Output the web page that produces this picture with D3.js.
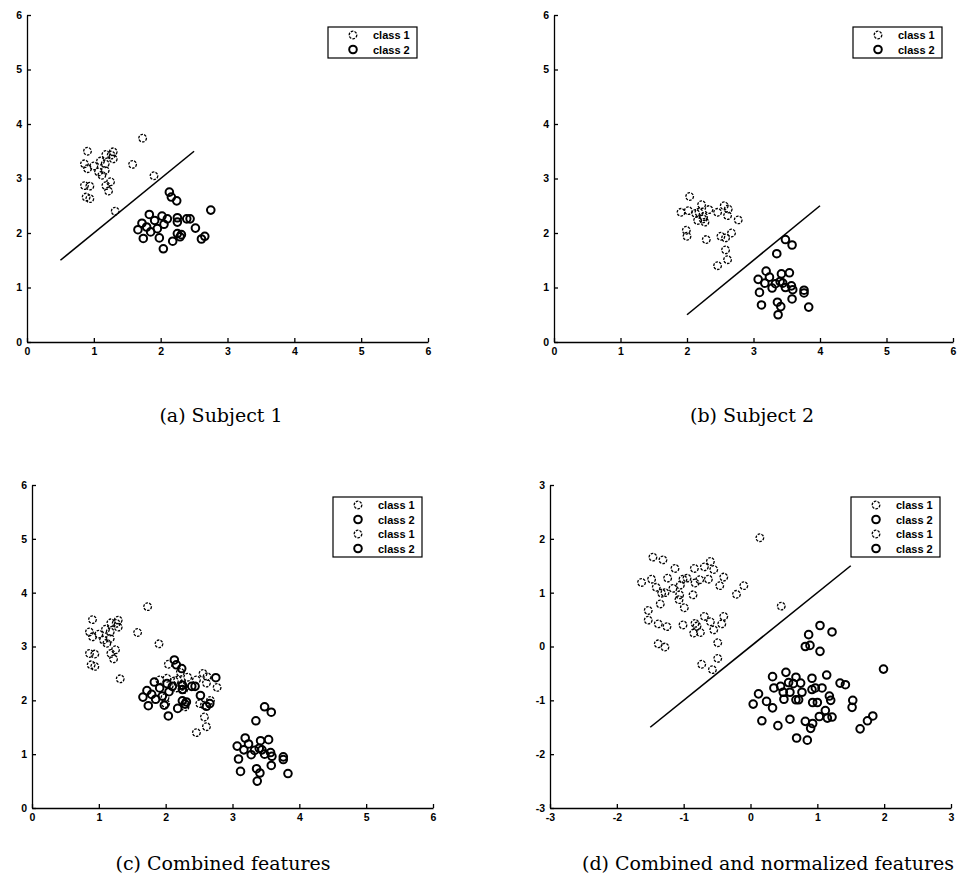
<!DOCTYPE html>
<html>
<head>
<meta charset="utf-8">
<script src="https://cdn.jsdelivr.net/npm/d3@7"></script>
<style>
  body { margin: 0; background: #fff; }
  svg { display: block; }
</style>
</head>
<body>
<script>
// subject 1 features
const s1c1 = [[0.905,3.50],[0.86,3.27],[0.905,3.18],[1.0,3.23],[1.1,3.32],[1.18,3.44],[1.29,3.49],[1.26,3.43],
  [1.17,3.27],[1.07,3.12],[1.17,3.15],[1.25,2.94],[1.18,2.87],[1.22,2.77],[0.86,2.87],[0.94,2.86],[0.885,2.66],
  [0.94,2.63],[1.32,2.40],[1.58,3.26],[1.73,3.74],[1.90,3.05],[1.12,3.06],[1.29,3.36]];
const s1c2 = [[2.13,2.75],[2.16,2.66],[2.24,2.59],[2.75,2.42],[1.83,2.34],[1.72,2.18],[1.66,2.06],[1.79,2.11],
  [1.74,1.90],[1.85,2.02],[1.98,1.91],[1.91,2.23],[2.02,2.31],[2.05,2.16],[1.95,2.08],[2.04,1.71],[2.18,1.85],
  [2.25,2.20],[2.25,1.99],[2.29,1.93],[2.39,2.26],[2.44,2.26],[2.52,2.09],[2.61,1.89],[2.66,1.94],[2.25,2.28],
  [2.10,2.26],[2.31,1.97]];
// subject 2 features
const s2c1 = [[2.04,2.67],[1.91,2.38],[2.02,2.41],[2.13,2.36],[2.18,2.38],[2.22,2.52],[2.33,2.43],[2.16,2.23],
  [2.24,2.26],[2.27,2.20],[2.46,2.38],[2.56,2.50],[2.62,2.44],[2.61,2.32],[2.77,2.24],[2.00,1.94],[2.29,1.88],
  [2.51,1.94],[2.58,1.69],[2.61,1.51],[2.46,1.40],[2.58,1.91],[1.99,2.05],[2.67,2.00],[2.25,2.30]];
const s2c2 = [[3.48,1.88],[3.58,1.78],[3.35,1.62],[3.19,1.30],[3.07,1.15],[3.17,1.08],[3.24,1.19],[3.33,1.07],
  [3.28,0.99],[3.42,1.25],[3.54,1.27],[3.44,1.08],[3.48,1.00],[3.57,1.03],[3.59,0.96],[3.40,1.11],[3.76,0.95],
  [3.76,0.90],[3.09,0.91],[3.12,0.68],[3.36,0.73],[3.41,0.65],[3.37,0.50],[3.58,0.79],[3.83,0.64]];
// combined and normalized features
const n1c1 = [[-1.46,1.66],[-1.31,1.61],[-1.13,1.45],[-0.84,1.45],[-0.69,1.48],[-0.60,1.58],[-0.55,1.43],
  [-1.63,1.19],[-1.48,1.25],[-1.41,1.10],[-1.24,1.27],[-1.16,1.08],[-1.33,0.99],[-1.28,1.00],[-1.05,1.14],
  [-1.01,1.25],[-0.95,1.27],[-1.06,0.96],[-1.07,0.87],[-0.99,0.72],[-0.86,0.96],[-0.83,1.18],[-0.76,1.24],
  [-0.63,1.25],[-0.46,1.13],[-0.40,1.29],[-0.21,0.97],[-0.10,1.13],[0.14,2.02],[0.46,0.75]];
const n2c1 = [[-1.35,0.79],[-1.53,0.67],[-1.53,0.49],[-1.38,0.42],[-1.25,0.37],[-1.01,0.40],[-0.83,0.43],
  [-0.80,0.38],[-0.85,0.25],[-0.75,0.26],[-0.69,0.56],[-0.60,0.46],[-0.55,0.31],[-0.40,0.56],[-0.43,0.42],
  [-0.49,0.07],[-0.49,-0.22],[-1.38,0.05],[-1.28,-0.01],[-0.73,-0.33],[-0.57,-0.43]];
const n1c2 = [[0.87,0.22],[1.04,0.39],[1.22,0.27],[0.82,0.00],[0.89,0.02],[1.04,-0.09],[1.99,-0.42],
  [0.33,-0.56],[0.53,-0.48],[0.68,-0.57],[0.92,-0.59],[1.14,-0.53],[0.35,-0.77],[0.45,-0.74],[0.57,-0.67],
  [0.64,-0.69],[0.75,-0.68],[0.12,-0.88],[0.49,-0.85],[0.59,-0.85],[0.77,-0.85],[0.92,-0.80],[0.97,-0.77],
  [1.07,-0.77],[1.18,-0.92],[1.34,-0.68]];
const n2c2 = [[1.42,-0.71],[0.04,-1.07],[0.24,-1.02],[0.33,-1.14],[0.50,-0.98],[0.68,-0.99],[0.72,-0.99],
  [0.93,-1.04],[1.00,-1.04],[1.20,-1.00],[1.53,-1.00],[1.52,-1.13],[0.17,-1.38],[0.41,-1.47],[0.59,-1.35],
  [0.82,-1.39],[0.90,-1.52],[0.93,-1.43],[1.03,-1.30],[1.12,-1.19],[1.15,-1.33],[1.22,-1.31],[1.64,-1.53],
  [1.75,-1.38],[1.83,-1.29],[0.69,-1.70],[0.85,-1.74]];

// decision boundaries
const lineA = [[0.5,1.5],[2.5,3.5]];
const lineB = [[2,0.5],[4,2.5]];
const lineD = [[-1.5,-1.5],[1.5,1.5]];

const ticksRaw = [0,1,2,3,4,5,6];
const ticksNorm = [-3,-2,-1,0,1,2,3];
const captions = ["(a) Subject 1","(b) Subject 2","(c) Combined features","(d) Combined and normalized features"];

let width = 958, height = 890;
let svg = d3.select("body").append("svg").attr("width", width).attr("height", height);

let panels = [
  { x0: 27, x1: 428, y0: 15, y1: 342, dom: [0,6], ticks: ticksRaw,
    series: [{d: s1c1, label: "class 1", c: 1}, {d: s1c2, label: "class 2", c: 2}],
    line: lineA, caption: captions[0], cx: 221, cy: 422 },
  { x0: 554, x1: 953, y0: 15, y1: 342, dom: [0,6], ticks: ticksRaw,
    series: [{d: s2c1, label: "class 1", c: 1}, {d: s2c2, label: "class 2", c: 2}],
    line: lineB, caption: captions[1], cx: 752, cy: 422 },
  { x0: 32, x1: 433, y0: 485, y1: 808, dom: [0,6], ticks: ticksRaw,
    series: [{d: s1c1, label: "class 1", c: 1}, {d: s1c2, label: "class 2", c: 2},
             {d: s2c1, label: "class 1", c: 1}, {d: s2c2, label: "class 2", c: 2}],
    line: null, caption: captions[2], cx: 223, cy: 870 },
  { x0: 550, x1: 951, y0: 485, y1: 808, dom: [-3,3], ticks: ticksNorm,
    series: [{d: n1c1, label: "class 1", c: 1}, {d: n1c2, label: "class 2", c: 2},
             {d: n2c1, label: "class 1", c: 1}, {d: n2c2, label: "class 2", c: 2}],
    line: lineD, caption: captions[3], cx: 768, cy: 870 }
];

function marker(sel, c) {
  sel.attr("r", 3.8)
    .attr("fill", "none")
    .attr("stroke", "#000")
    .attr("stroke-width", c === 1 ? 1.3 : 2)
    .attr("stroke-dasharray", c === 1 ? "2.6,1.2" : null);
}

panels.forEach(function (p) {
  let xScale = d3.scaleLinear().domain(p.dom).range([p.x0, p.x1]);
  let yScale = d3.scaleLinear().domain(p.dom).range([p.y1, p.y0]);
  let g = svg.append("g");

  let xAxis = d3.axisBottom(xScale).tickValues(p.ticks).tickFormat(d => String(d))
    .tickSizeInner(-4).tickSizeOuter(0).tickPadding(6);
  let yAxis = d3.axisLeft(yScale).tickValues(p.ticks).tickFormat(d => String(d))
    .tickSizeInner(-4).tickSizeOuter(0).tickPadding(5);

  g.append("g")
    .attr("transform", `translate(0, ${p.y1})`)
    .call(xAxis)
    .call(g => g.select(".domain").attr("stroke-width", 1.3));
  g.append("g")
    .attr("transform", `translate(${p.x0}, 0)`)
    .call(yAxis)
    .call(g => g.select(".domain").attr("stroke-width", 1.3));
  g.selectAll(".tick line").attr("stroke-width", 1.3);
  g.selectAll(".tick text")
    .attr("font-family", "Liberation Sans, Arial, sans-serif")
    .attr("font-weight", "bold")
    .attr("font-size", 10.5)
    .attr("fill", "#000");

  if (p.line) {
    let line = d3.line().x(d => xScale(d[0])).y(d => yScale(d[1]));
    g.append("path")
      .attr("d", line(p.line))
      .attr("stroke", "#000")
      .attr("stroke-width", 1.6)
      .attr("fill", "none");
  }

  p.series.forEach(function (s) {
    g.append("g")
      .selectAll("circle")
      .data(s.d)
      .join("circle")
      .attr("cx", d => xScale(d[0]))
      .attr("cy", d => yScale(d[1]))
      .call(marker, s.c);
  });

  // legend
  let lw = 89, rowH = 14.5;
  let lh = p.series.length * rowH + 2;
  let lx = p.x1 - 11 - lw, ly = p.y0 + 12;
  let leg = g.append("g").attr("transform", `translate(${lx}, ${ly})`);
  leg.append("rect")
    .attr("width", lw).attr("height", lh)
    .attr("fill", "#fff").attr("stroke", "#000").attr("stroke-width", 1.2);
  p.series.forEach(function (s, i) {
    let cy = 8 + i * rowH;
    leg.append("circle").attr("cx", 25).attr("cy", cy).call(marker, s.c);
    leg.append("text")
      .attr("x", 45).attr("y", cy + 4)
      .attr("font-family", "Liberation Sans, Arial, sans-serif")
      .attr("font-weight", "bold")
      .attr("font-size", 11)
      .text(s.label);
  });

  svg.append("text")
    .attr("x", p.cx).attr("y", p.cy)
    .attr("text-anchor", "middle")
    .attr("font-family", "DejaVu Serif, serif")
    .attr("font-size", 19)
    .text(p.caption);
});
</script>
</body>
</html>
